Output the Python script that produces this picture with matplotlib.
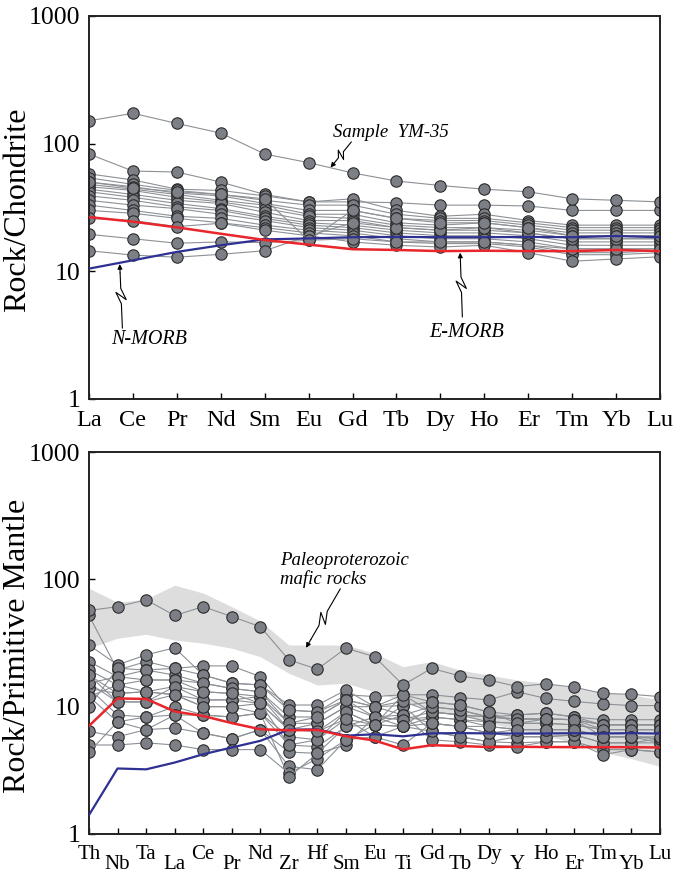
import numpy as np
import matplotlib
matplotlib.use("Agg")
import matplotlib.pyplot as plt
import matplotlib.ticker as ticker

plt.rcParams['font.family'] = ['Liberation Serif', 'DejaVu Serif']

# ---------- chondrite-normalised REE (top panel) ----------
ree_elements = ['La', 'Ce', 'Pr', 'Nd', 'Sm', 'Eu', 'Gd', 'Tb', 'Dy', 'Ho', 'Er', 'Tm', 'Yb', 'Lu']
ym35_ree = [151, 173, 144, 121, 83, 71, 59, 51, 47, 44, 42, 37, 36, 35]
ree_samples = [
    [83, 61, 60, 50, 40, 35, 35, 34.5, 33, 33, 32.5, 30, 30, 30],
    [58, 52, 44, 43, 39, 35, 37, 30, 27, 28, 25, 23, 23, 23],
    [54, 48, 43, 40, 36, 33, 33, 28, 26, 26, 24, 22, 22, 22],
    [50, 46, 41, 39, 34, 30, 30, 26, 25, 25, 23, 21, 21, 21],
    [48, 44, 40, 36, 33, 28, 28, 24, 23, 24, 22, 20, 20, 20],
    [46, 43, 38, 35, 31, 27, 26, 23, 22, 22, 21, 19, 19, 19],
    [44, 40, 36, 34, 29, 25, 25, 22, 21, 21, 20, 18, 18, 18],
    [42, 38, 34, 31, 27, 24, 23, 21, 20, 20, 19, 17, 17, 17],
    [39, 36, 32, 30, 26, 23, 22, 20, 19, 19, 18, 16, 16, 16],
    [36, 33, 31, 28, 25, 22, 21, 19, 18, 18, 17, 15, 15, 15],
    [33, 30, 27, 26, 23, 21, 20, 18, 17, 17, 16, 14, 14, 14.5],
    [30, 28.5, 26, 24, 22, 20, 19, 17, 16.5, 16.5, 15.5, 13.5, 13.5, 14],
    [26, 25, 22.4, 23.8, 21, 19, 17, 16, 15.5, 16, 14, 12, 12.5, 13],
    [19.5, 18, 16.6, 17, 16.8, 17.5, 18, 17, 17, 17, 16, 15, 15, 15],
    [14.5, 13.4, 12.9, 13.6, 14.5, 19, 24, 22, 21, 22, 20, 18, 18, 18],
    [50, 45, 42, 40, 37, 17.5, 30, 26, 24, 24, 22, 19, 19, 19],
]
nmorb_ree = [10.5, 12.2, 14.2, 16.0, 17.8, 18.1, 18.5, 18.6, 18.5, 18.5, 18.6, 18.5, 18.9, 18.5]
emorb_ree = [26.6, 24.5, 22.1, 19.7, 17.6, 16.2, 14.9, 14.7, 14.4, 14.5, 14.4, 14.4, 14.7, 14.4]

# ---------- primitive-mantle-normalised spider (bottom panel) ----------
spider_elements = ['Th', 'Nb', 'Ta', 'La', 'Ce', 'Pr', 'Nd', 'Zr', 'Hf', 'Sm', 'Eu',
                   'Ti', 'Gd', 'Tb', 'Dy', 'Y', 'Ho', 'Er', 'Tm', 'Yb', 'Lu']
ym35_spider = [57, 61, 69, 52, 61, 51, 42.5, 23.3, 19.7, 28.8, 24.7, 14.8, 20, 17.4, 16.2, 14.4, 15.1, 14.2, 12.7, 12.5, 12]
spider_samples = [
    [52, 19.4, 22.6, 20, 20.9, 20.9, 17.2, 9.4, 9.1, 12.4, 12, 12.4, 12.4, 11.8, 11.3, 13.1, 11.6, 11, 10.5, 10.2, 10.2],
    [30.5, 21.3, 25.5, 29, 17.7, 15.3, 14.8, 10.3, 10.3, 13.5, 10, 10.2, 10.9, 10.3, 9.1, 8.6, 8.9, 8.3, 7.9, 7.9, 7.9],
    [22.6, 17.2, 19.4, 17.7, 15.3, 13.9, 13.1, 8.3, 8.3, 11.3, 10, 8.6, 10, 9.4, 8.3, 8, 8, 7.9, 7.2, 7.2, 7.2],
    [19.4, 14.8, 16.2, 16.2, 13.1, 12.7, 12, 7.4, 7.4, 10, 8.3, 7.9, 9.1, 8.6, 7.6, 7.4, 7.4, 7.2, 6.6, 6.6, 6.6],
    [17.7, 12.7, 13.1, 14.4, 11.3, 11.3, 10.6, 6.6, 6.4, 9.1, 7.2, 7, 8.3, 7.9, 7, 6.6, 6.6, 6.6, 5.8, 5.8, 5.6],
    [15.3, 10.9, 10.9, 12.4, 10, 10, 8.9, 5.8, 5.5, 8, 5.8, 5, 7.4, 7, 6.2, 5.8, 5.8, 6, 5.2, 5.2, 5.2],
    [13.9, 8.6, 8.3, 10, 8.6, 8.3, 8.9, 5, 4.85, 7, 7.2, 10.2, 6.4, 5.8, 5.3, 5.2, 5.3, 5.3, 4.6, 4.6, 4.4],
    [12, 7.6, 6.6, 8.6, 6.2, 5.6, 6.6, 4.4, 4.3, 5, 8.3, 8.6, 5.5, 5.3, 5, 4.85, 5.3, 5.3, 4.2, 4.6, 4.4],
    [10, 20, 19.4, 20, 17.7, 15.3, 14.8, 9.4, 9.1, 11.3, 10, 12.4, 9.1, 8.6, 8.3, 8, 8, 7.9, 7.2, 7.2, 7.2],
    [6.4, 5.8, 6.6, 6.8, 6.2, 5.6, 6.6, 3.4, 3.2, 5.5, 5.8, 7, 6.4, 5.8, 5.3, 5.8, 5.8, 6, 5.2, 5.2, 5.6],
    [5, 5, 5.2, 5, 4.6, 4.6, 4.6, 3, 3.9, 5.5, 7.2, 8.6, 7.4, 7, 6.2, 6.6, 6.6, 6.6, 5.8, 5.8, 5.2],
    [4.4, 7.6, 8.3, 8.6, 8.6, 8.3, 8.9, 2.8, 4.3, 7, 8.3, 7.9, 8.3, 7.9, 7.6, 7.4, 7.4, 7.2, 6.6, 6.6, 6.6],
    [13.9, 12.7, 13.1, 12.4, 11.3, 11.3, 12, 6.6, 7.4, 10, 10, 11, 9.1, 8.6, 8.3, 8.6, 8.9, 8.3, 7.2, 7.2, 7.2],
    [15.3, 17.2, 16.2, 16.2, 15.3, 13.9, 13.1, 7.4, 8.3, 11.3, 8.3, 7, 10, 9.4, 8.3, 8, 8, 7.9, 6.6, 6.6, 6.6],
    [17.7, 10.9, 10.9, 14.4, 13.1, 12.7, 10.6, 5, 5.5, 9.1, 7.2, 12.4, 10.9, 10.3, 9.1, 7.4, 8, 7.9, 5.8, 5.8, 5.6],
    [12, 14.8, 13.1, 12.4, 10, 10, 10.6, 6.6, 6.4, 8, 7.2, 7, 7.4, 7, 7, 6.6, 6.6, 6.6, 5.8, 5.8, 5.8],
]
nmorb_spider = [1.41, 3.27, 3.22, 3.64, 4.23, 4.78, 5.39, 6.6, 6.63, 5.92, 6.07, 5.85, 6.17, 6.2, 6.17, 6.15, 6.16, 6.19, 6.16, 6.19, 6.15]
emorb_spider = [7.06, 11.6, 11.5, 9.17, 8.45, 7.43, 6.65, 6.52, 6.57, 5.86, 5.42, 4.62, 4.98, 4.91, 4.82, 4.84, 4.82, 4.81, 4.81, 4.81, 4.78]
band_upper = [85, 66, 70, 90, 78, 61, 47, 30.5, 30.5, 30.5, 26.3, 20.6, 22.6, 19.4, 17.7, 16.2, 15.3, 14, 13.1, 12.4, 11.3]
band_lower = [28.8, 34.5, 37, 33.4, 31.5, 28.8, 24.7, 18.3, 14.8, 15.3, 13.1, 11, 9.5, 8.5, 7.5, 6.6, 5.9, 5.2, 4.4, 3.9, 3.4]

line_grey = '#8c9196'
face_grey = '#7c7f86'
edge_dark = '#2b2b2b'
red = '#e8262b'
blue = '#2e3192'

W, H = 678, 873
fig = plt.figure(figsize=(W / 100, H / 100), dpi=100)
ax1 = fig.add_axes([89 / W, 1 - 399 / H, 571 / W, 383 / H])
ax2 = fig.add_axes([89 / W, 1 - 834 / H, 571 / W, 382 / H])


def style_axes(ax, n):
    ax.set_yscale('log')
    ax.set_ylim(1, 1000)
    ax.set_xlim(0, n - 1)
    ax.yaxis.set_major_locator(ticker.FixedLocator([1, 10, 100, 1000]))
    ax.yaxis.set_major_formatter(ticker.FixedFormatter(['1', '10', '100', '1000']))
    ax.yaxis.set_minor_locator(ticker.NullLocator())
    ax.tick_params(axis='y', direction='in', length=4, width=1, labelsize=18.5, pad=6)
    for s in ax.spines.values():
        s.set_linewidth(1.4)
        s.set_color('#222222')


def draw_sample(ax, x, vals):
    ax.plot(x, vals, '-', color=line_grey, lw=0.8, zorder=2,
            marker='o', ms=8.2, mfc=face_grey, mec=edge_dark, mew=0.8)


def squiggle(ax, start, end, w=5):
    # lightning-style leader in display space, arrowhead at the end
    p0 = ax.transData.transform(start)
    p1 = ax.transData.transform(end)
    d = p1 - p0
    n = np.array([-d[1], d[0]]) / np.hypot(*d)
    P = lambda t: p0 + t * d
    pts = [p0, P(0.38), P(0.56) + w * n, P(0.44) - w * n, P(0.62), P(0.86)]
    pts = ax.transData.inverted().transform(np.array(pts))
    ax.plot(pts[:, 0], pts[:, 1], color='k', lw=0.8, zorder=6)
    ax.annotate('', xy=end, xytext=tuple(pts[-1]),
                arrowprops=dict(arrowstyle='-|>', lw=0.8, color='k', mutation_scale=7,
                                shrinkA=0, shrinkB=0), zorder=6)


# ---------- top panel ----------
x1 = np.arange(len(ree_elements))
style_axes(ax1, len(ree_elements))
for s in ree_samples:
    draw_sample(ax1, x1, s)
draw_sample(ax1, x1, ym35_ree)
ax1.plot(x1, nmorb_ree, color=blue, lw=1.6, zorder=4)
ax1.plot(x1, emorb_ree, color=red, lw=1.8, zorder=4)
ax1.set_xticks(x1)
ax1.set_xticklabels(ree_elements)
ax1.tick_params(axis='x', direction='in', length=4, width=1, labelsize=17.5, pad=8)

ax1.text(5.55, 122, 'Sample  YM-35', style='italic', fontsize=13.5, va='center', ha='left')
squiggle(ax1, (5.97, 103), (5.5, 65))
ax1.text(0.5, 2.9, 'N-MORB', style='italic', fontsize=14.5, va='center', ha='left')
squiggle(ax1, (0.76, 3.6), (0.7, 11.4))
ax1.text(7.75, 3.3, 'E-MORB', style='italic', fontsize=14.5, va='center', ha='left')
squiggle(ax1, (8.5, 4.4), (8.45, 14.0))

# ---------- bottom panel ----------
x2 = np.arange(len(spider_elements))
style_axes(ax2, len(spider_elements))
ax2.fill_between(x2, band_lower, band_upper, color='#dddddd', lw=0, zorder=1)
for s in spider_samples:
    draw_sample(ax2, x2, s)
draw_sample(ax2, x2, ym35_spider)
ax2.plot(x2, nmorb_spider, color=blue, lw=1.6, zorder=4)
ax2.plot(x2, emorb_spider, color=red, lw=1.8, zorder=4)

ax2.set_xticks(x2[::2])
ax2.set_xticklabels(spider_elements[::2])
ax2.set_xticks(x2[1::2], minor=True)
ax2.set_xticklabels(spider_elements[1::2], minor=True)
ax2.tick_params(axis='x', which='both', direction='in', length=4, width=1, labelsize=15)
ax2.tick_params(axis='x', which='major', pad=8)
ax2.tick_params(axis='x', which='minor', pad=15)

ax2.text(6.7, 140, 'Paleoproterozoic', style='italic', fontsize=13.5, va='center', ha='left')
ax2.text(6.7, 100, 'mafic rocks', style='italic', fontsize=13.5, va='center', ha='left')
squiggle(ax2, (8.8, 84), (7.6, 29))

fig.text(18 / W, 1 - 210 / H, 'Rock/Chondrite', rotation=90, fontsize=23, ha='center', va='center')
fig.text(18 / W, 1 - 646 / H, 'Rock/Primitive Mantle', rotation=90, fontsize=23, ha='center', va='center')

fig.savefig('out.png', dpi=100)
